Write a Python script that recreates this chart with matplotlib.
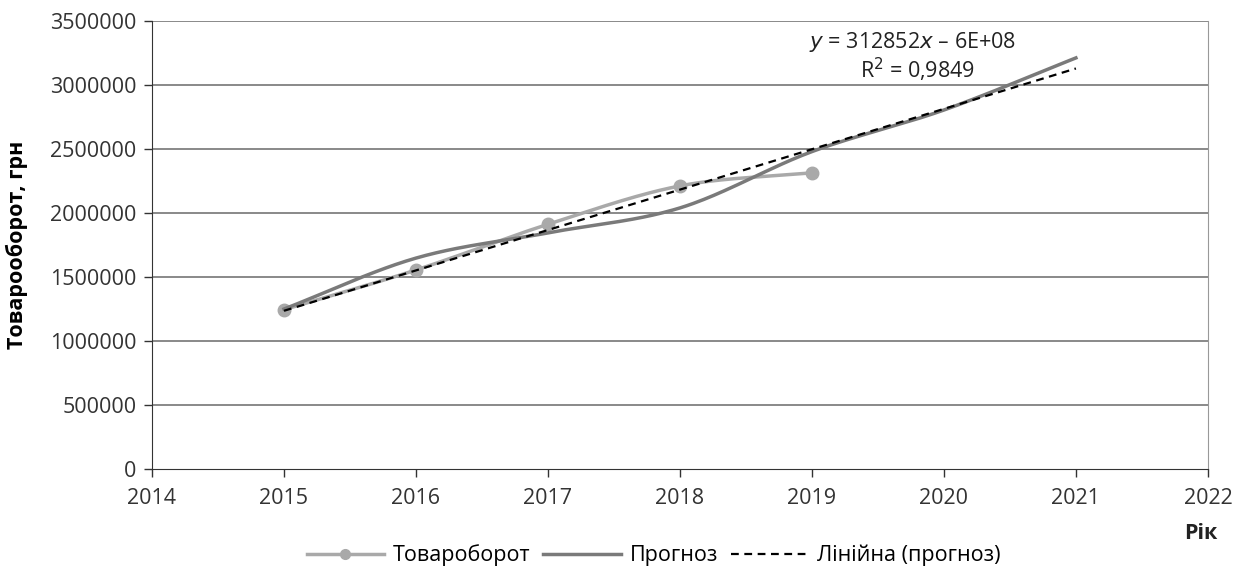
import matplotlib.pyplot as plt
import numpy as np
from matplotlib.ticker import FuncFormatter

plt.rcParams['font.family'] = ['Open Sans', 'DejaVu Sans']

# річні дані
years = [2015, 2016, 2017, 2018, 2019]
turnover = [1245000, 1555000, 1912000, 2212000, 2315000]

forecast_years = [2015, 2016, 2017, 2018, 2019, 2020, 2021]
forecast = [1250000, 1648000, 1845000, 2040000, 2480000, 2805000, 3212000]


def smooth(xs, ys, n=40):
    # згладжена лінія (сплайн Катмулла-Ромма)
    x = np.array(xs, float)
    y = np.array(ys, float)
    px = np.concatenate([[2*x[0]-x[1]], x, [2*x[-1]-x[-2]]])
    py = np.concatenate([[2*y[0]-y[1]], y, [2*y[-1]-y[-2]]])
    ox, oy = [], []
    t = np.linspace(0, 1, n)
    for i in range(1, len(px)-2):
        p0, p1, p2, p3 = px[i-1], px[i], px[i+1], px[i+2]
        q0, q1, q2, q3 = py[i-1], py[i], py[i+1], py[i+2]
        b1 = p1 + (p2 - p0)/6
        b2 = p2 - (p3 - p1)/6
        c1 = q1 + (q2 - q0)/6
        c2 = q2 - (q3 - q1)/6
        ox += list((1-t)**3*p1 + 3*(1-t)**2*t*b1 + 3*(1-t)*t**2*b2 + t**3*p2)
        oy += list((1-t)**3*q1 + 3*(1-t)**2*t*c1 + 3*(1-t)*t**2*c2 + t**3*q2)
    return ox, oy


fs = 15.5

fig = plt.figure(figsize=(12.53, 5.69), dpi=100)
ax = fig.add_axes([0.1213, 0.1757, 0.8427, 0.7873])

for v in range(500000, 3500001, 500000):
    ax.axhline(v, color='#808080', lw=1.3, zorder=1)

sx, sy = smooth(years, turnover)
ax.plot(sx, sy, color='#a9a9a9', lw=2.5, zorder=3)
ax.plot(years, turnover, 'o', color='#a9a9a9', ms=9, zorder=3)

fx, fy = smooth(forecast_years, forecast)
ax.plot(fx, fy, color='#7a7a7a', lw=2.5, zorder=4)

k, b = np.polyfit(forecast_years, forecast, 1)
tx = np.array([forecast_years[0], forecast_years[-1]])
ax.plot(tx, k*tx + b, color='black', lw=1.6, ls=(0, (3.5, 2.5)), zorder=5)

ax.plot([], [], color='#a9a9a9', lw=2.5, marker='o', ms=7, label='Товароборот')
ax.plot([], [], color='#7a7a7a', lw=2.5, label='Прогноз')
ax.plot([], [], color='black', lw=1.6, ls=(0, (3.5, 2.5)), label='Лінійна (прогноз)')

ax.text(0.72, 0.953, '$y$ = 312852$x$ – 6E+08', transform=ax.transAxes,
        ha='center', va='center', fontsize=fs, color='#222222')
ax.text(0.725, 0.89, 'R$^2$ = 0,9849', transform=ax.transAxes,
        ha='center', va='center', fontsize=fs, color='#222222')

ax.set_xlim(2014, 2022)
ax.set_ylim(0, 3500000)
ax.set_xticks(range(2014, 2023))
ax.set_yticks(range(0, 3500001, 500000))
ax.yaxis.set_major_formatter(FuncFormatter(lambda v, p: '%d' % v))
ax.tick_params(labelsize=fs, colors='#333333', length=6, width=1, pad=8)
ax.tick_params(axis='y', pad=5)

ax.spines['top'].set_visible(False)
ax.spines['right'].set_color('#999999')
ax.spines['left'].set_color('#333333')
ax.spines['bottom'].set_color('#333333')

ax.set_ylabel('Товарооборот, грн', fontsize=fs, fontweight='bold')
ax.yaxis.set_label_coords(-0.117, 0.5)
fig.text(0.958, 0.063, 'Рік', fontsize=fs, fontweight='bold', ha='center', va='center',
         color='#222222')

ax.legend(loc='upper center', bbox_to_anchor=(0.475, -0.125), ncol=3, frameon=False,
          fontsize=fs, handlelength=3.6, columnspacing=0.6, handletextpad=0.4)

fig.savefig('out.png', dpi=100)
